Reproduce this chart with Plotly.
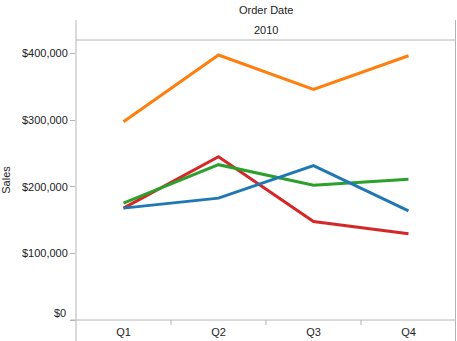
import plotly.graph_objects as go

quarters = ["Q1", "Q2", "Q3", "Q4"]
sales_blue = [167800, 182800, 231600, 163700]
sales_orange = [297500, 397500, 346000, 396400]
sales_green = [175300, 233000, 202000, 211000]
sales_red = [167800, 245000, 147700, 129300]

y_ticks = [0, 100000, 200000, 300000, 400000]
y_tick_labels = ["$0", "$100,000", "$200,000", "$300,000", "$400,000"]

W, H = 457, 341
L, R, T, B = 76, 1, 40, 21
grey = "#b4b4b4"
font = dict(family="Liberation Sans, Arial, sans-serif", size=11, color="#222222")

fig = go.Figure()
# drawn back to front: blue ends up on top
for vals, col in [(sales_red, "#d62728"), (sales_green, "#2ca02c"),
                  (sales_orange, "#ff7f0e"), (sales_blue, "#1f77b4")]:
    fig.add_trace(go.Scatter(x=quarters, y=vals, mode="lines",
                             line=dict(color=col, width=3), showlegend=False,
                             hoverinfo="skip"))

# the bottom label sits a little above its tick so it stays inside the pane
shown_labels = [""] + y_tick_labels[1:]

fig.update_layout(
    width=W, height=H,
    margin=dict(l=L, r=R, t=T, b=B, pad=0),
    paper_bgcolor="white", plot_bgcolor="white",
    font=font,
    xaxis=dict(type="category", range=[-0.5, 3.5], showgrid=False,
               zeroline=False, showline=False, ticks="", tickfont=font,
               ticklabelstandoff=4),
    yaxis=dict(range=[0, 420000], tickvals=y_ticks, ticktext=shown_labels,
               showgrid=False, zeroline=False, showline=False,
               ticks="outside", ticklen=5, tickcolor=grey, tickwidth=1,
               tickfont=font,
               title=dict(text="Sales", font=font, standoff=10)),
)

ph = H - T - B  # plot height in px
def py(px):
    # pixel row -> paper y
    return (H - B - px) / ph

pw = W - L - R
def pxx(px):
    return (px - L) / pw

line = dict(color=grey, width=1)
# pane frame and header rules
fig.add_shape(type="line", xref="paper", yref="paper", x0=0, x1=0,
              y0=py(341), y1=py(20), line=line)
fig.add_shape(type="line", xref="paper", yref="paper", x0=1 - 0.5 / pw, x1=1 - 0.5 / pw,
              y0=py(341), y1=py(20), line=line)
fig.add_shape(type="line", xref="paper", yref="paper", x0=0, x1=1,
              y0=1, y1=1, line=line)
fig.add_shape(type="line", xref="paper", yref="paper", x0=pxx(70.5), x1=1,
              y0=0, y1=0, line=line)
# separators between quarter labels
for b in [0.5, 1.5, 2.5]:
    fig.add_shape(type="line", xref="x", yref="paper", x0=b, x1=b,
                  y0=0, y1=py(325), line=line)

fig.add_annotation(text=y_tick_labels[0], xref="paper", yref="paper",
                   x=pxx(68), y=py(313), xanchor="right", yanchor="middle",
                   showarrow=False, font=font)
fig.add_annotation(text="Order Date", xref="paper", yref="paper", x=0.5,
                   y=py(10), showarrow=False, font=font, yanchor="middle")
fig.add_annotation(text="2010", xref="paper", yref="paper", x=0.5,
                   y=py(30), showarrow=False, font=font, yanchor="middle")

fig.write_html("out.html")
